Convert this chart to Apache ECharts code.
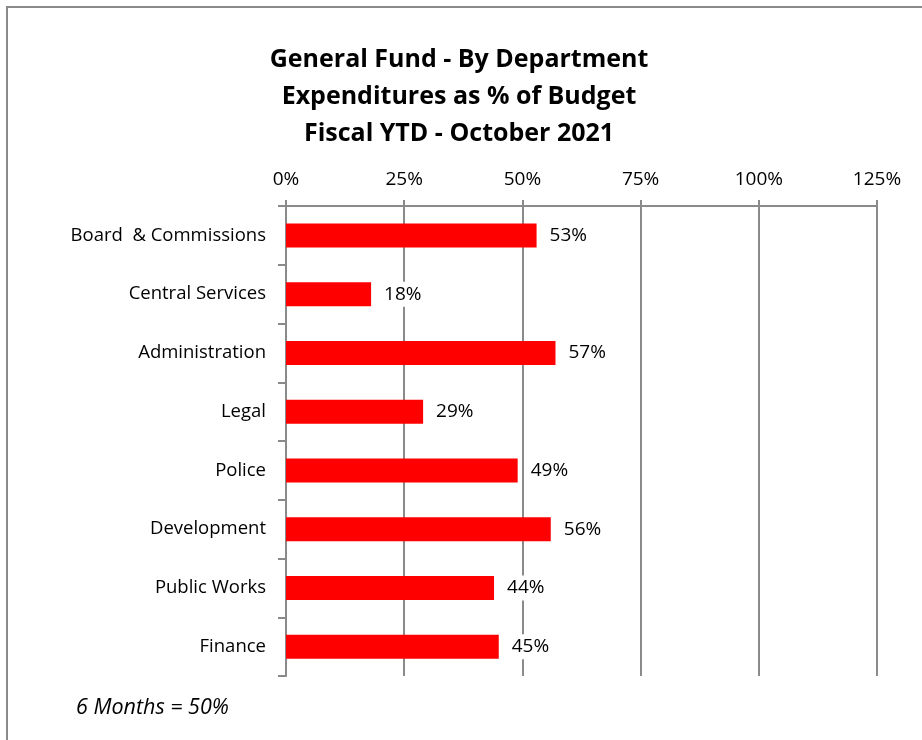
<!DOCTYPE html>
<html>
<head>
<meta charset="utf-8">
<script src="https://cdn.jsdelivr.net/npm/echarts@6/dist/echarts.min.js"></script>
<style>
  html, body { margin: 0; padding: 0; background: #fff; }
  #chart { width: 922px; height: 740px; }
</style>
</head>
<body>
<div id="chart"></div>
<script>
// Departments, top to bottom
const departments = ['Board  & Commissions', 'Central Services', 'Administration', 'Legal',
  'Police', 'Development', 'Public Works', 'Finance'];
// Year-to-date expenditures as a percentage of budget
const pctOfBudget = [53, 18, 57, 29, 49, 56, 44, 45];
// Axis ticks (percent)
const axisMin = 0, axisMax = 125, axisStep = 25;

const titleLines = ['General Fund - By Department', 'Expenditures as % of Budget', 'Fiscal YTD - October 2021'];
const footnote = '6 Months = 50%';

const font = '"Open Sans", "Noto Sans", sans-serif';
const gray = '#8a8a8a';

const chart = echarts.init(document.getElementById('chart'));
chart.setOption({
  animation: false,
  backgroundColor: '#fff',
  title: {
    text: titleLines.join('\n'),
    left: 454,
    textAlign: 'center',
    top: 36,
    textStyle: { fontFamily: font, fontWeight: 'bold', fontSize: 25, lineHeight: 37, color: '#000' }
  },
  graphic: [
    {
      type: 'rect', silent: true,
      shape: { x: 7, y: 7, width: 1000, height: 1000 },
      style: { fill: 'none', stroke: gray, lineWidth: 2 }
    },
    {
      type: 'text', left: 76, top: 697,
      style: { text: footnote, fontFamily: font, fontStyle: 'italic', fontSize: 21.5, fill: '#000' }
    }
  ],
  grid: { left: 286, right: 45, top: 206, bottom: 64, containLabel: false },
  xAxis: {
    type: 'value', position: 'top',
    min: axisMin, max: axisMax, interval: axisStep,
    axisLine: { show: true, lineStyle: { color: gray, width: 2 } },
    axisTick: { show: true, inside: false, length: 6, lineStyle: { color: gray, width: 2 } },
    splitLine: { show: true, lineStyle: { color: gray, width: 2 } },
    axisLabel: { formatter: '{value}%', margin: 17, fontFamily: font, fontSize: 19, color: '#000' }
  },
  yAxis: {
    type: 'category', inverse: true, data: departments,
    axisLine: { show: true, lineStyle: { color: gray, width: 2 } },
    axisTick: { show: true, length: 8, lineStyle: { color: gray, width: 2 } },
    axisLabel: { margin: 20, fontFamily: font, fontSize: 18.5, color: '#000' }
  },
  series: [{
    type: 'bar', data: pctOfBudget, barWidth: 24,
    itemStyle: { color: '#ff0000' },
    label: {
      show: true, position: 'right', distance: 9, formatter: '{c}%',
      backgroundColor: '#fff', padding: [3, 4],
      fontFamily: font, fontSize: 19, color: '#000'
    }
  }]
});
</script>
</body>
</html>
